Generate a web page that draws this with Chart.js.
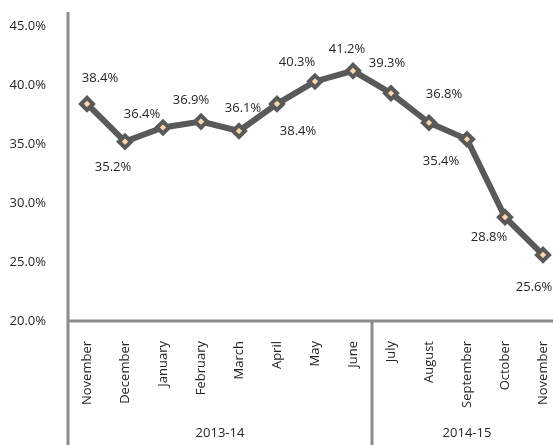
<!DOCTYPE html>
<html>
<head>
<meta charset="utf-8">
<script src="https://cdn.jsdelivr.net/npm/chart.js@4.4.1/dist/chart.umd.min.js"></script>
<style>
  html, body { margin: 0; padding: 0; background: #fff; overflow: hidden; }
  #wrap { position: relative; width: 553px; height: 445px; overflow: hidden; }
  #chart { position: absolute; left: 0; top: 0; }
</style>
</head>
<body>
<div id="wrap"><canvas id="chart" width="572" height="445"></canvas></div>
<script>
// months and values
const months = ['November', 'December', 'January', 'February', 'March', 'April', 'May', 'June',
                'July', 'August', 'September', 'October', 'November'];
const rates = [38.4, 35.2, 36.4, 36.9, 36.1, 38.4, 40.3, 41.2, 39.3, 36.8, 35.4, 28.8, 25.6];
const yTicks = [20, 25, 30, 35, 40, 45];
// year groups: label, first index, last index
const years = [['2013-14', 0, 7], ['2014-15', 8, 12]];

// where each value label sits relative to its point (px)
const labelOffsets = [[13, -26], [-12, 26], [-21, -13], [-10, -21], [4, -23], [21, 27], [-18, -19],
                      [-6, -22], [-4, -30], [15, -28], [-26, 22], [-16, 20], [-9, 32]];

const FONT = '"Open Sans", sans-serif';
const AXIS = '#8c8c8c';
const TEXT = '#262626';

// axis lines, year separators and year labels
const frame = {
    id: 'frame',
    afterDraw(chart) {
        const ctx = chart.ctx;
        const area = chart.chartArea;
        const x = chart.scales.x;
        const h = chart.height;
        ctx.save();
        ctx.strokeStyle = AXIS;
        ctx.lineWidth = 3;
        ctx.beginPath();
        ctx.moveTo(area.left, 12);
        ctx.lineTo(area.left, h);
        ctx.moveTo(area.left, area.bottom);
        ctx.lineTo(chart.width, area.bottom);
        // separator between the two years
        for (let i = 1; i < years.length; i++) {
            const sx = (x.getPixelForValue(years[i - 1][2]) + x.getPixelForValue(years[i][1])) / 2;
            ctx.moveTo(sx, area.bottom);
            ctx.lineTo(sx, h);
        }
        ctx.stroke();
        ctx.fillStyle = TEXT;
        ctx.font = '13px ' + FONT;
        ctx.textAlign = 'center';
        ctx.textBaseline = 'middle';
        years.forEach(y => {
            const cx = (x.getPixelForValue(y[1]) + x.getPixelForValue(y[2])) / 2;
            ctx.fillText(y[0], cx, 433);
        });
        ctx.restore();
    }
};

// value labels next to the points
const valueLabels = {
    id: 'valueLabels',
    afterDatasetsDraw(chart) {
        const ctx = chart.ctx;
        const meta = chart.getDatasetMeta(0);
        ctx.save();
        ctx.fillStyle = TEXT;
        ctx.font = '13px ' + FONT;
        ctx.textAlign = 'center';
        ctx.textBaseline = 'middle';
        meta.data.forEach((pt, i) => {
            const off = labelOffsets[i];
            ctx.fillText(rates[i].toFixed(1) + '%', pt.x + off[0], pt.y + off[1]);
        });
        ctx.restore();
    }
};

new Chart(document.getElementById('chart'), {
    type: 'line',
    data: {
        labels: months,
        datasets: [{
            data: rates,
            borderColor: '#595959',
            borderWidth: 6,
            tension: 0,
            pointStyle: 'rectRot',
            pointRadius: 6,
            pointBorderWidth: 4,
            pointBorderColor: '#595959',
            pointBackgroundColor: '#fcd5ac'
        }]
    },
    options: {
        responsive: false,
        animation: false,
        layout: { padding: { top: 26, left: 0, right: 0, bottom: 0 } },
        plugins: {
            legend: { display: false },
            tooltip: { enabled: false }
        },
        scales: {
            x: {
                offset: true,
                grid: { display: false },
                border: { display: false },
                ticks: {
                    color: TEXT,
                    font: { family: FONT, size: 13 },
                    minRotation: 90,
                    maxRotation: 90,
                    padding: 12,
                    autoSkip: false
                },
                afterFit(scale) { scale.height = 124; }
            },
            y: {
                min: yTicks[0],
                max: yTicks[yTicks.length - 1],
                grid: { display: false },
                border: { display: false },
                afterBuildTicks(scale) { scale.ticks = yTicks.map(v => ({ value: v })); },
                ticks: {
                    color: TEXT,
                    font: { family: FONT, size: 13 },
                    padding: 14,
                    callback: v => v.toFixed(1) + '%'
                },
                afterFit(scale) { scale.width = 68; }
            }
        }
    },
    plugins: [frame, valueLabels]
});
</script>
</body>
</html>
